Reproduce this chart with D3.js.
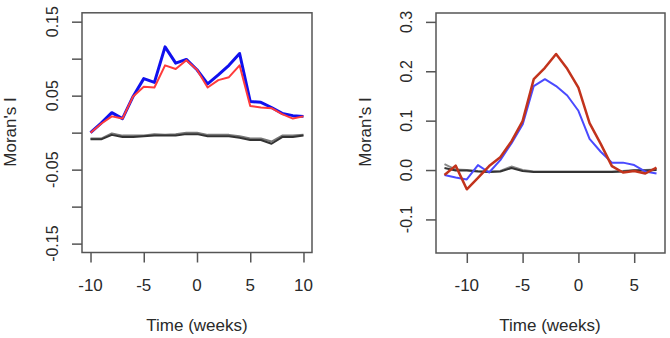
<!DOCTYPE html>
<html><head><meta charset="utf-8">
<script src="https://cdn.jsdelivr.net/npm/d3@7"></script>
<style>body{margin:0;background:#fff}svg{display:block}text{font-family:"Liberation Sans",Arial,sans-serif;fill:#2a2a2a}</style>
</head><body><svg id="c" width="670" height="338"></svg>
<script>
// Left panel data
const weeksA = [-10,-9,-8,-7,-6,-5,-4,-3,-2,-1,0,1,2,3,4,5,6,7,8,9,10];
const blueA  = [0.000,0.013,0.027,0.019,0.049,0.073,0.068,0.116,0.094,0.099,0.085,0.066,0.078,0.091,0.107,0.042,0.041,0.034,0.026,0.023,0.022];
const redA   = [0.000,0.012,0.022,0.019,0.049,0.062,0.061,0.091,0.086,0.098,0.085,0.061,0.071,0.075,0.091,0.036,0.034,0.033,0.025,0.019,0.022];
const greyA1 = [-0.009,-0.009,-0.003,-0.006,-0.006,-0.005,-0.004,-0.004,-0.004,-0.002,-0.002,-0.005,-0.005,-0.005,-0.007,-0.010,-0.010,-0.015,-0.006,-0.006,-0.004];
const greyA2 = [-0.008,-0.008,-0.001,-0.004,-0.004,-0.004,-0.002,-0.003,-0.002,0.000,0.000,-0.003,-0.003,-0.003,-0.005,-0.008,-0.008,-0.012,-0.004,-0.004,-0.003];
const yTicksA = [-0.15,-0.10,-0.05,0.00,0.05,0.10,0.15];
const yLabelsA = ["-0.15","","-0.05","","0.05","","0.15"];
const xTicksA = [-10,-5,0,5,10];

// Right panel data
const weeksB = [-12,-11,-10,-9,-8,-7,-6,-5,-4,-3,-2,-1,0,1,2,3,4,5,6,7];
const redB   = [-0.010,0.009,-0.039,-0.016,0.008,0.026,0.058,0.099,0.184,0.207,0.235,0.205,0.167,0.095,0.053,0.008,-0.005,-0.002,-0.007,0.005];
const blueB  = [-0.010,-0.015,-0.019,0.010,-0.005,0.020,0.054,0.092,0.170,0.184,0.170,0.151,0.120,0.063,0.037,0.015,0.015,0.010,-0.003,-0.007];
const greyB1 = [0.012,0.001,0.000,-0.002,-0.003,-0.002,0.007,0.000,-0.003,-0.003,-0.003,-0.003,-0.003,-0.003,-0.003,-0.003,-0.002,0.000,0.000,0.001];
const greyB2 = [0.004,-0.001,-0.001,-0.003,-0.004,-0.003,0.004,-0.002,-0.004,-0.004,-0.004,-0.004,-0.004,-0.004,-0.004,-0.004,-0.003,-0.001,-0.001,0.000];
const yTicksB = [-0.1,0.0,0.1,0.2,0.3];
const yLabelsB = ["-0.1","0.0","0.1","0.2","0.3"];
const xTicksB = [-10,-5,0,5];

const svg = d3.select("#c");

function panel(o){
  const x = d3.scaleLinear().domain(o.xd).range(o.xr);
  const y = d3.scaleLinear().domain(o.yd).range(o.yr);
  const g = svg.append("g");
  g.append("rect").attr("x",o.xr[0]).attr("y",o.yr[1]).attr("width",o.xr[1]-o.xr[0]).attr("height",o.yr[0]-o.yr[1])
    .attr("fill","none").attr("stroke","#555").attr("stroke-width",1.5);
  const ya = g.append("g").attr("transform",`translate(${o.xr[0]},0)`)
    .call(d3.axisLeft(y).tickValues(o.yt).tickSize(10).tickFormat(""));
  ya.select(".domain").remove();
  ya.selectAll("line").attr("stroke","#555").attr("stroke-width",1.5);
  o.yt.forEach((v,i)=>{
    if(!o.yl[i]) return;
    g.append("text").attr("transform",`translate(${o.xr[0]-30},${y(v)}) rotate(-90)`)
      .attr("text-anchor","middle").attr("dominant-baseline","central").attr("font-size",16).text(o.yl[i]);
  });
  const xa = g.append("g").attr("transform",`translate(0,${o.yr[0]})`)
    .call(d3.axisBottom(x).tickValues(o.xt).tickSize(10).tickFormat(""));
  xa.select(".domain").remove();
  xa.selectAll("line").attr("stroke","#555").attr("stroke-width",1.5);
  o.xt.forEach(v=>{
    g.append("text").attr("x",x(v)).attr("y",285).attr("text-anchor","middle")
      .attr("dominant-baseline","central").attr("font-size",17).text(String(v));
  });
  g.append("text").attr("x",o.xlx).attr("y",325).attr("text-anchor","middle")
    .attr("dominant-baseline","central").attr("font-size",17).text("Time (weeks)");
  g.append("text").attr("transform",`translate(${o.ylx},132) rotate(-90)`).attr("text-anchor","middle")
    .attr("dominant-baseline","central").attr("font-size",17).text("Moran's I");
  o.series.forEach(s=>{
    const line = d3.line().x((d,i)=>x(o.weeks[i])).y(d=>y(d));
    g.append("path").datum(s.v).attr("d",line).attr("fill","none")
      .attr("stroke",s.c).attr("stroke-width",s.w).attr("stroke-linejoin","round");
  });
}

panel({xd:[-10.8,10.8], xr:[82,312], yd:[-0.162,0.162], yr:[252.5,12.8],
  yt:yTicksA, yl:yLabelsA, xt:xTicksA, weeks:weeksA, xlx:197, ylx:10,
  series:[{v:greyA2,c:"#777",w:2},{v:greyA1,c:"#333",w:2},{v:blueA,c:"#1010ee",w:3},{v:redA,c:"#ff3b3b",w:2}]});

panel({xd:[-12.76,7.76], xr:[436,665], yd:[-0.168,0.318], yr:[253,13],
  yt:yTicksB, yl:yLabelsB, xt:xTicksB, weeks:weeksB, xlx:550, ylx:365,
  series:[{v:greyB1,c:"#888",w:2},{v:greyB2,c:"#333",w:2},{v:blueB,c:"#4a4aff",w:2},{v:redB,c:"#c2331c",w:2.5}]});
</script></body></html>
